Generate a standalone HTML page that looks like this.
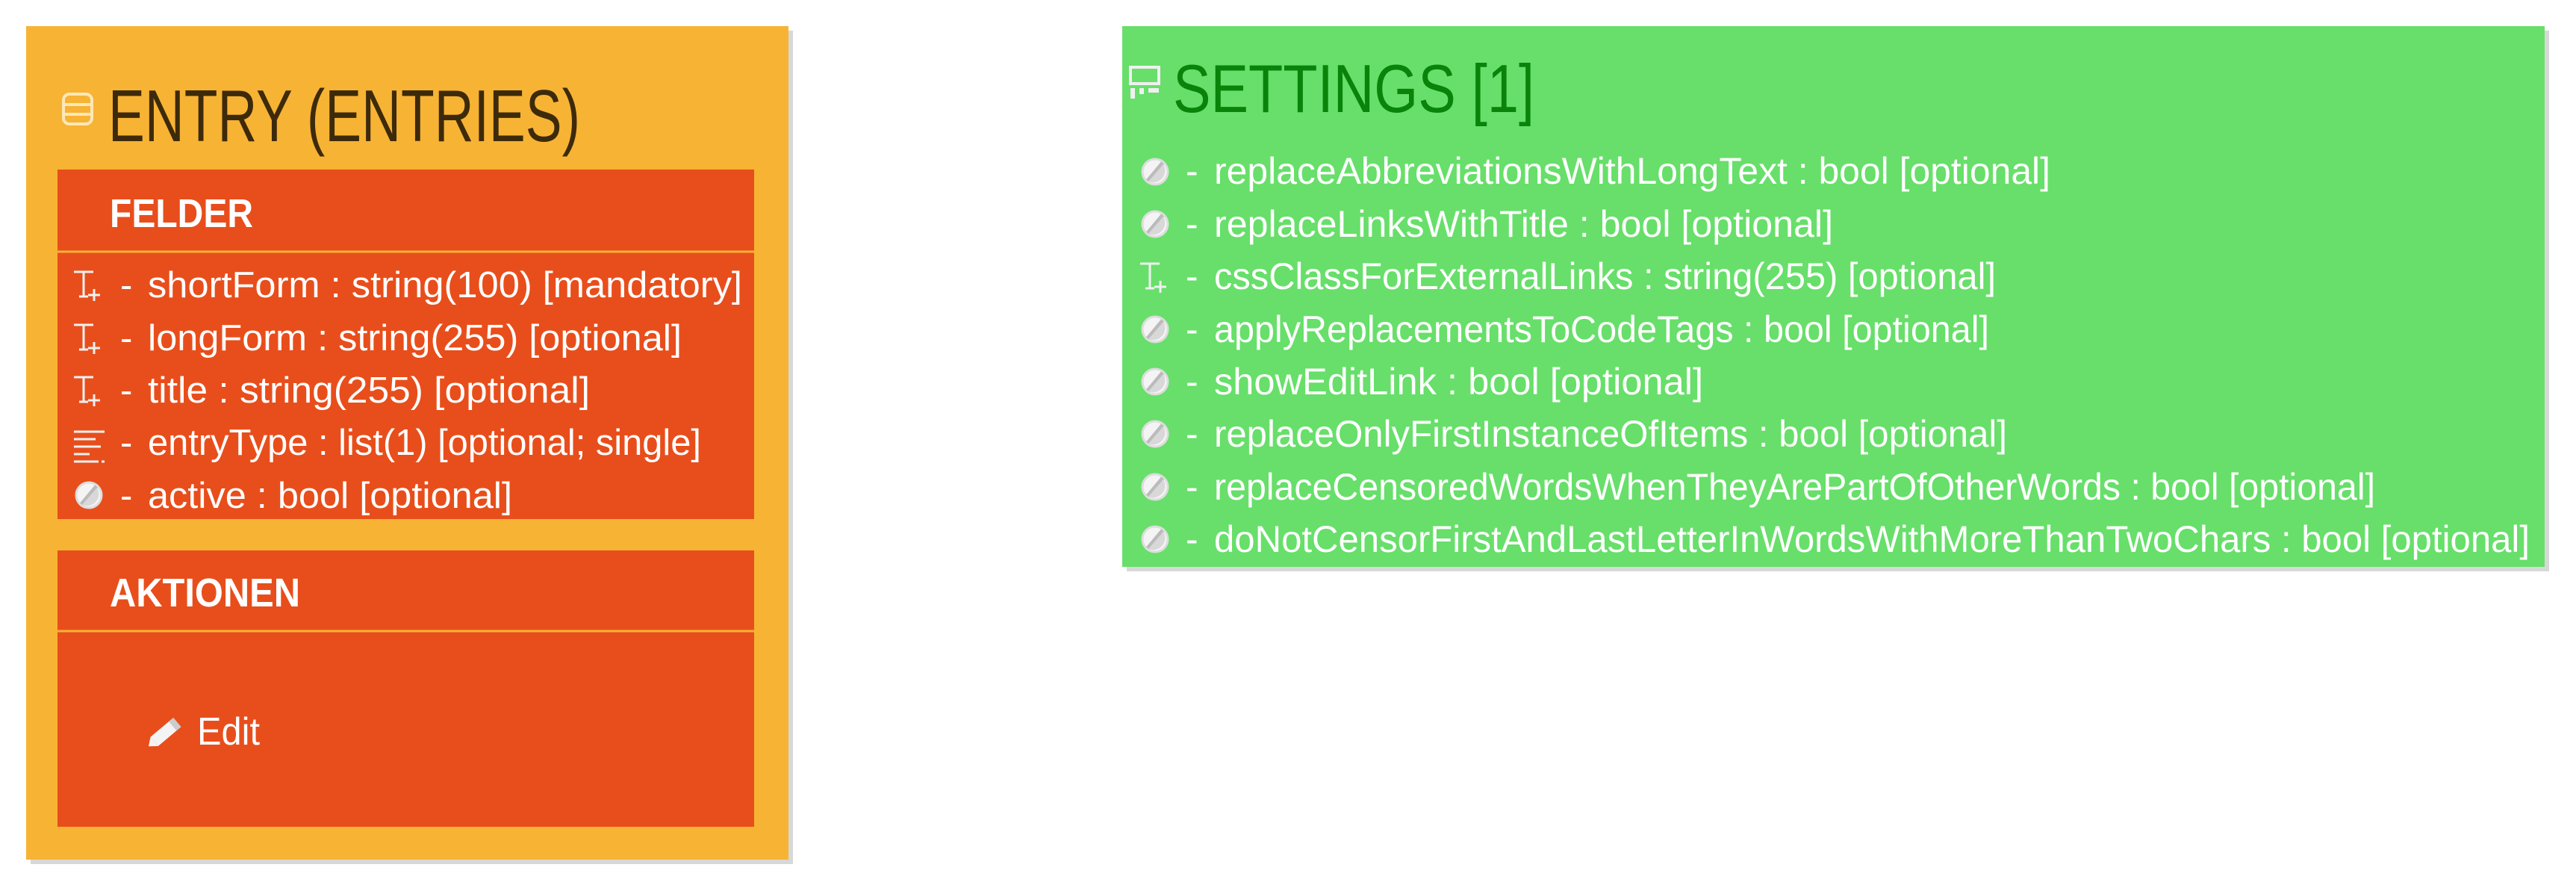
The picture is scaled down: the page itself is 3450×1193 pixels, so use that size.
<!DOCTYPE html>
<html><head><meta charset="utf-8"><style>html,body{margin:0;padding:0;background:#fff}svg{display:block}</style></head>
<body>
<svg width="3450" height="1193" viewBox="0 0 3450 1193" xmlns="http://www.w3.org/2000/svg" font-family="Liberation Sans, sans-serif">
<defs>
<g id="bool"><circle cx="0" cy="0" r="17" fill="#f4f4f4" stroke="#ddd" stroke-width="3"/><path d="M10,-12 L-10,12" stroke="#bbb" stroke-width="5"/><path d="M11,-10 A16,16 0 0 1 -9,13 Z" fill="#d8d8d8"/></g>
<g id="tplus" fill="none" stroke="#f0f0f0" stroke-width="3"><path d="M-20,-17 H6 M-7,-17 V16 M-13,16 H-1"/><path d="M7,6 V22 M-1,14 H15"/></g>
</defs>
<!-- ENTRY -->
<rect x="41" y="41" width="1021" height="1116" fill="#d8d8d8"/>
<rect x="35" y="35" width="1021" height="1116" fill="#f7b334"/>
<g transform="translate(104,146)"><rect x="-19" y="-20" width="38" height="40" rx="8" fill="none" stroke="#fde7b8" stroke-width="4"/><path d="M-19,-6 H19 M-19,7 H19" stroke="#fde7b8" stroke-width="4"/></g>
<text x="145" y="189" font-size="98" fill="#3d2a0a" textLength="632" lengthAdjust="spacingAndGlyphs">ENTRY (ENTRIES)</text>
<rect x="77" y="227" width="933" height="468" fill="#e84e1b"/>
<line x1="77" y1="337" x2="1010" y2="337" stroke="#f7b334" stroke-width="3"/>
<text x="147" y="304" font-size="54" font-weight="bold" fill="#fff" textLength="192" lengthAdjust="spacingAndGlyphs">FELDER</text>
<g fill="#fff" font-size="49">
<use href="#tplus" x="119" y="381"/><text x="161" y="398">-</text><text x="198" y="398" textLength="796" lengthAdjust="spacingAndGlyphs">shortForm : string(100) [mandatory]</text>
<use href="#tplus" x="119" y="452"/><text x="161" y="469">-</text><text x="198" y="469" textLength="715" lengthAdjust="spacingAndGlyphs">longForm : string(255) [optional]</text>
<use href="#tplus" x="119" y="522"/><text x="161" y="539">-</text><text x="198" y="539" textLength="592" lengthAdjust="spacingAndGlyphs">title : string(255) [optional]</text>
<g stroke="#f0f0f0" stroke-width="3"><path d="M99,578 H140 M99,588 H128 M99,598 H135 M99,608 H120 M99,618 H132 M136,618 H140"/></g>
<text x="161" y="609">-</text><text x="198" y="609" textLength="741" lengthAdjust="spacingAndGlyphs">entryType : list(1) [optional; single]</text>
<use href="#bool" x="119" y="663"/><text x="161" y="680">-</text><text x="198" y="680" textLength="488" lengthAdjust="spacingAndGlyphs">active : bool [optional]</text>
</g>
<rect x="77" y="737" width="933" height="370" fill="#e84e1b"/>
<line x1="77" y1="845" x2="1010" y2="845" stroke="#f7b334" stroke-width="3"/>
<text x="147" y="812" font-size="54" font-weight="bold" fill="#fff" textLength="255" lengthAdjust="spacingAndGlyphs">AKTIONEN</text>
<g transform="translate(222,980) rotate(-40)"><rect x="-20" y="-8" width="40" height="16" fill="#f4f4f4"/><path d="M-20,-8 L-30,0 L-20,8 Z" fill="#f4f4f4"/><rect x="12" y="-8" width="8" height="16" fill="#ccc"/></g>
<text x="264" y="997" font-size="52" fill="#fff" textLength="84" lengthAdjust="spacingAndGlyphs">Edit</text>
<!-- SETTINGS -->
<rect x="1509" y="41" width="1905" height="724" fill="#d8d8d8"/>
<rect x="1503" y="35" width="1905" height="724" fill="#67df6a"/>
<g fill="#f0f0f0"><rect x="1514" y="90" width="38" height="22" fill="none" stroke="#f0f0f0" stroke-width="4"/><rect x="1514" y="118" width="6" height="14"/><rect x="1526" y="118" width="6" height="8"/><rect x="1538" y="118" width="14" height="6"/></g>
<text x="1571" y="150" font-size="91" fill="#0a830a" textLength="484" lengthAdjust="spacingAndGlyphs">SETTINGS [1]</text>
<g fill="#fff" font-size="50">
<use href="#bool" x="1547" y="230"/><text x="1588" y="246">-</text><text x="1626" y="246" textLength="1120" lengthAdjust="spacingAndGlyphs">replaceAbbreviationsWithLongText : bool [optional]</text>
<use href="#bool" x="1547" y="300"/><text x="1588" y="317">-</text><text x="1626" y="317" textLength="829" lengthAdjust="spacingAndGlyphs">replaceLinksWithTitle : bool [optional]</text>
<use href="#tplus" x="1547" y="370"/><text x="1588" y="387">-</text><text x="1626" y="387" textLength="1047" lengthAdjust="spacingAndGlyphs">cssClassForExternalLinks : string(255) [optional]</text>
<use href="#bool" x="1547" y="441"/><text x="1588" y="458">-</text><text x="1626" y="458" textLength="1038" lengthAdjust="spacingAndGlyphs">applyReplacementsToCodeTags : bool [optional]</text>
<use href="#bool" x="1547" y="511"/><text x="1588" y="528">-</text><text x="1626" y="528" textLength="655" lengthAdjust="spacingAndGlyphs">showEditLink : bool [optional]</text>
<use href="#bool" x="1547" y="581"/><text x="1588" y="598">-</text><text x="1626" y="598" textLength="1062" lengthAdjust="spacingAndGlyphs">replaceOnlyFirstInstanceOfItems : bool [optional]</text>
<use href="#bool" x="1547" y="652"/><text x="1588" y="669">-</text><text x="1626" y="669" textLength="1555" lengthAdjust="spacingAndGlyphs">replaceCensoredWordsWhenTheyArePartOfOtherWords : bool [optional]</text>
<use href="#bool" x="1547" y="722"/><text x="1588" y="739">-</text><text x="1626" y="739" textLength="1762" lengthAdjust="spacingAndGlyphs">doNotCensorFirstAndLastLetterInWordsWithMoreThanTwoChars : bool [optional]</text>
</g>
</svg>
</body></html>
